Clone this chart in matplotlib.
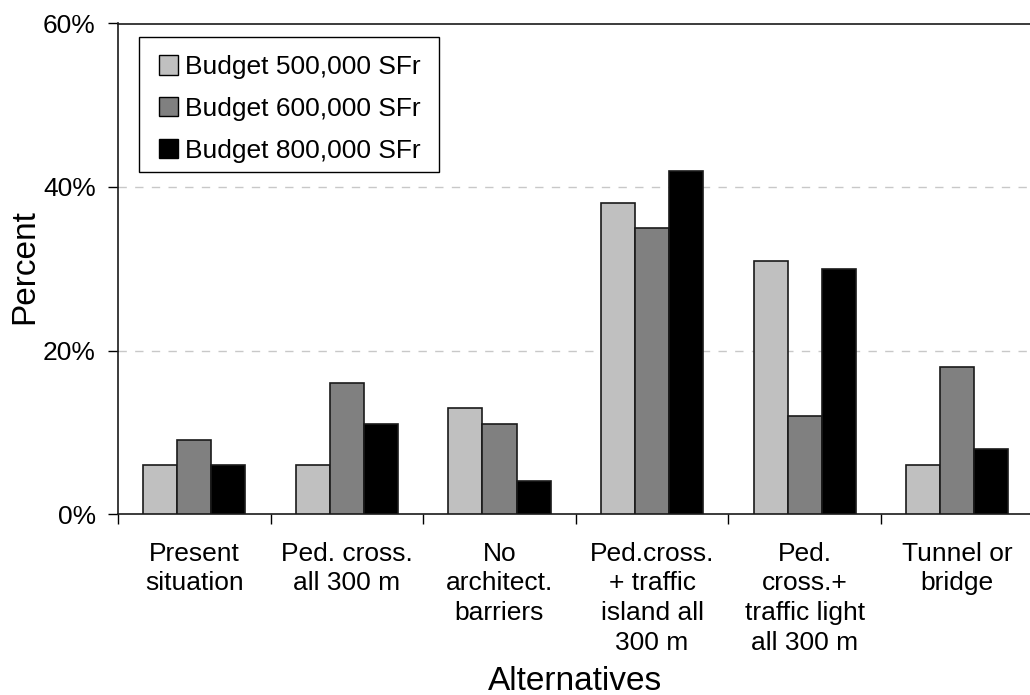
import matplotlib
matplotlib.use("Agg")
import matplotlib.pyplot as plt
from matplotlib.patches import Rectangle
import numpy as np

plt.rcParams['font.family'] = ['Liberation Sans', 'DejaVu Sans']

categories = ["Present\nsituation", "Ped. cross.\nall 300 m", "No\narchitect.\nbarriers",
              "Ped.cross.\n+ traffic\nisland all\n300 m", "Ped.\ncross.+\ntraffic light\nall 300 m",
              "Tunnel or\nbridge"]
series_names = ["Budget 500,000 SFr", "Budget 600,000 SFr", "Budget 800,000 SFr"]
budget_500 = [6, 6, 13, 38, 31, 6]
budget_600 = [9, 16, 11, 35, 12, 18]
budget_800 = [6, 11, 4, 42, 30, 8]
colors = ["#c0c0c0", "#808080", "#000000"]

fig = plt.figure(figsize=(10.30, 6.95), dpi=100)
W, H = 1030, 695
left, right, top, bottom = 118, 1033.6, 23.5, 514
ax = fig.add_axes([left / W, 1 - bottom / H, (right - left) / W, (bottom - top) / H])

x = np.arange(len(categories))
bw = 0.223
for i, (vals, name, c) in enumerate(zip([budget_500, budget_600, budget_800], series_names, colors)):
    ax.bar(x + (i - 1) * bw, vals, width=bw, color=c, edgecolor="#1a1a1a", linewidth=1.2,
           label=name, zorder=3)

ax.set_xlim(-0.5, len(categories) - 0.5)
ax.set_ylim(0, 60)
ax.set_yticks([0, 20, 40, 60])
ax.set_yticklabels(["0%", "20%", "40%", "60%"], fontsize=19)
for yv in [20, 40]:
    ax.axhline(yv, color="#c8c8c8", linestyle=(0, (6, 6)), linewidth=1, zorder=1)

ax.set_xticks(np.arange(len(categories) + 1) - 0.5)
ax.set_xticklabels([])
ax.set_xticks(x, minor=True)
ax.set_xticklabels(categories, minor=True, fontsize=19, linespacing=1.3)
ax.tick_params(axis="x", which="minor", length=0, pad=20)
ax.tick_params(axis="x", which="major", direction="out", length=7, width=1)
ax.tick_params(axis="y", direction="out", length=7, width=1, pad=9)

for s in ["left", "bottom", "top"]:
    ax.spines[s].set_linewidth(1.2)
    ax.spines[s].set_color("#1a1a1a")
ax.spines["right"].set_visible(False)

fig.text(25 / W, 1 - 267 / H, "Percent", rotation=90, fontsize=24, ha="center", va="center")
fig.text(575 / W, 1 - 690 / H, "Alternatives", fontsize=24, ha="center", va="baseline")

# legend frame (style only)
frame = Rectangle((139 / W, 1 - 172 / H), 300 / W, 135 / H, transform=fig.transFigure,
                  facecolor="white", edgecolor="black", linewidth=1, zorder=4)
ax.add_patch(frame)

leg = ax.legend(loc="upper left",
                bbox_to_anchor=(159 / W, 1 - 55 / H), bbox_transform=fig.transFigure,
                fontsize=19, frameon=False,
                handlelength=0.72, handleheight=0.76, handletextpad=0.25, labelspacing=0.68,
                borderpad=0, borderaxespad=0)
leg.set_zorder(5)
for h in leg.legend_handles:
    h.set_edgecolor("black")
    h.set_linewidth(1)

fig.savefig("out.png", dpi=100)
